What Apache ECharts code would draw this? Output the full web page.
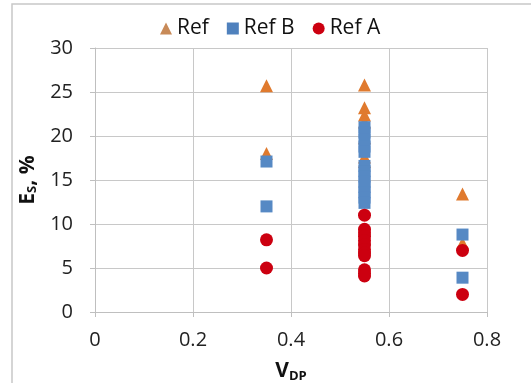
<!DOCTYPE html>
<html>
<head>
<meta charset="utf-8">
<script src="https://cdn.jsdelivr.net/npm/echarts@6/dist/echarts.min.js"></script>
<style>
  html, body { margin: 0; padding: 0; background: #fff; }
  #chart { width: 531px; height: 383px; }
</style>
</head>
<body>
<div id="chart"></div>
<script>
// 数据 (V_DP, E_S %)
var refData = [
  [0.35, 25.7], [0.35, 18.0],
  [0.55, 25.8], [0.55, 23.2], [0.55, 22.4], [0.55, 21.6], [0.55, 19.8],
  [0.55, 17.6], [0.55, 17.1],
  [0.75, 13.4], [0.75, 7.8]
];
var refBData = [
  [0.35, 17.1], [0.35, 12.0],
  [0.55, 21.0], [0.55, 20.4], [0.55, 19.6], [0.55, 18.8], [0.55, 18.2],
  [0.55, 16.6], [0.55, 16.0], [0.55, 15.4], [0.55, 14.8], [0.55, 14.2],
  [0.55, 13.6], [0.55, 13.0], [0.55, 12.4],
  [0.75, 8.8], [0.75, 3.9]
];
var refAData = [
  [0.35, 8.2], [0.35, 5.0],
  [0.55, 11.0], [0.55, 9.4], [0.55, 9.0], [0.55, 8.6], [0.55, 8.1],
  [0.55, 7.6], [0.55, 7.1], [0.55, 6.7], [0.55, 6.4],
  [0.55, 4.8], [0.55, 4.4], [0.55, 4.1],
  [0.75, 7.0], [0.75, 2.0]
];
var seriesNames = ['Ref', 'Ref B', 'Ref A'];

var myChart = echarts.init(document.getElementById('chart'));
var labelFont = { fontFamily: 'Open Sans, sans-serif', fontSize: 20, color: '#222' };

var option = {
  backgroundColor: '#fff',
  animation: false,
  graphic: [{
    type: 'rect',
    shape: { x: 12, y: 4, width: 540, height: 400 },
    style: { fill: 'none', stroke: '#c8c8c8', lineWidth: 1.5 }
  }],
  legend: {
    top: 13,
    left: 155,
    itemGap: 18,
    itemWidth: 12,
    itemHeight: 12,
    textStyle: { fontFamily: 'Open Sans, sans-serif', fontSize: 21, color: '#111' },
    data: [
      { name: 'Ref', icon: 'triangle', itemStyle: { color: '#c88a58' } },
      { name: 'Ref B', icon: 'rect', itemStyle: { color: '#4f81bd' } },
      { name: 'Ref A', icon: 'circle', itemStyle: { color: '#cc0010' } }
    ]
  },
  grid: { left: 95, right: 44, top: 48, bottom: 71, outerBoundsMode: 'none', containLabel: false },
  xAxis: {
    type: 'value',
    min: 0, max: 0.8, interval: 0.2,
    name: '{a|V}{b|DP}',
    nameLocation: 'middle',
    nameGap: 48,
    nameTextStyle: {
      rich: {
        a: { fontFamily: 'Open Sans, sans-serif', fontSize: 21, fontWeight: 'bold', color: '#111' },
        b: { fontFamily: 'Open Sans, sans-serif', fontSize: 13, fontWeight: 'bold', color: '#111', verticalAlign: 'bottom', padding: [10, 0, 0, 0] }
      }
    },
    axisLine: { show: true, onZero: false, lineStyle: { color: '#bfbfbf' } },
    axisTick: { show: true, length: 5, lineStyle: { color: '#bfbfbf' } },
    axisLabel: Object.assign({ margin: 18, formatter: function (v) { return String(+v.toFixed(1)); } }, labelFont),
    splitLine: { show: true, lineStyle: { color: '#c8c8c8' } }
  },
  yAxis: {
    type: 'value',
    min: 0, max: 30, interval: 5,
    name: '{a|E}{b|S}{a|, %}',
    nameLocation: 'middle',
    nameGap: 45,
    nameRotate: 90,
    nameTextStyle: {
      rich: {
        a: { fontFamily: 'Open Sans, sans-serif', fontSize: 21, fontWeight: 'bold', color: '#111' },
        b: { fontFamily: 'Open Sans, sans-serif', fontSize: 13, fontWeight: 'bold', color: '#111', padding: [10, 0, 0, 0] }
      }
    },
    axisLine: { show: true, lineStyle: { color: '#bfbfbf' } },
    axisTick: { show: true, length: 5, lineStyle: { color: '#bfbfbf' } },
    axisLabel: Object.assign({ margin: 22 }, labelFont),
    splitLine: { show: true, lineStyle: { color: '#c8c8c8' } }
  },
  series: [{
    name: seriesNames[0],
    type: 'scatter',
    symbol: 'triangle',
    symbolSize: 13,
    itemStyle: { color: '#e07a2e', opacity: 1 },
    data: refData
  }, {
    name: seriesNames[1],
    type: 'scatter',
    symbol: 'rect',
    symbolSize: 12,
    itemStyle: { color: '#5689c4', opacity: 1 },
    data: refBData
  }, {
    name: seriesNames[2],
    type: 'scatter',
    symbol: 'circle',
    symbolSize: 13,
    itemStyle: { color: '#cc0010', opacity: 1 },
    data: refAData
  }]
};
myChart.setOption(option);
window.addEventListener('resize', function () {
  myChart.resize();
});
</script>
</body>
</html>
